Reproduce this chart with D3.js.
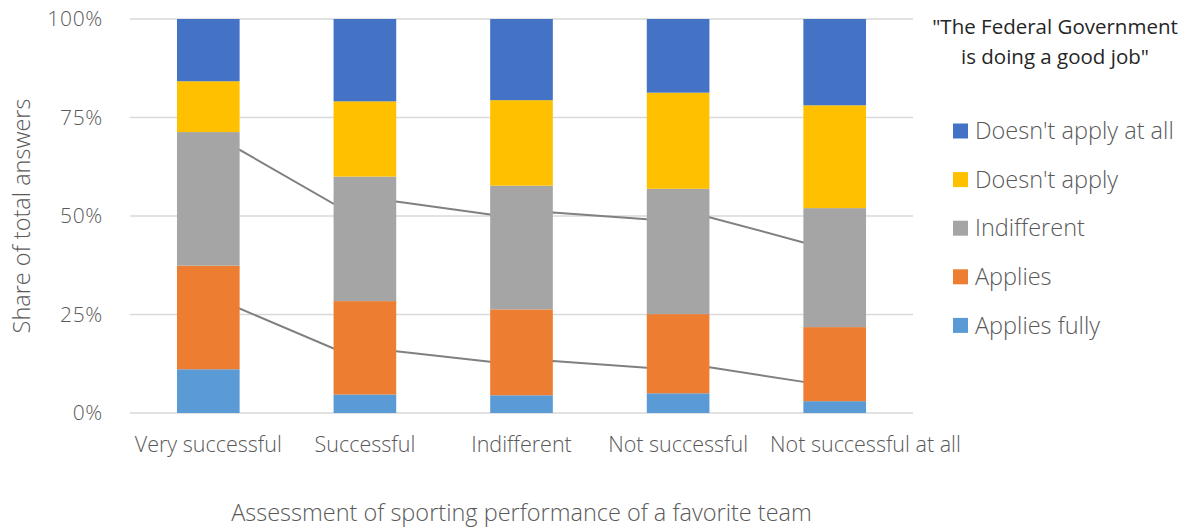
<!DOCTYPE html>
<html>
<head>
<meta charset="utf-8">
<script src="https://cdn.jsdelivr.net/npm/d3@7"></script>
<style>
  body { margin: 0; background: #fff; }
  text { font-family: "Open Sans", "Noto Sans", sans-serif; }
  .light { font-weight: 300; }
</style>
</head>
<body>
<div id="chart"></div>
<script>
// categories and series
var categories = ["Very successful", "Successful", "Indifferent", "Not successful", "Not successful at all"];
var seriesNames = ["Applies fully", "Applies", "Indifferent", "Doesn't apply", "Doesn't apply at all"];
var seriesColors = ["#5B9BD5", "#ED7D31", "#A5A5A5", "#FFC000", "#4472C4"];

// shares in % (bottom to top)
var appliesFully = [11.1, 4.7, 4.5, 5.0, 3.0];
var applies = [26.3, 23.7, 21.8, 20.1, 18.8];
var indifferent = [33.9, 31.6, 31.4, 31.8, 30.2];
var doesntApply = [12.9, 19.1, 21.7, 24.4, 26.1];
var doesntApplyAtAll = [15.8, 20.9, 20.6, 18.7, 21.9];

// connector lines, value at left / right edge of each bar
var upperLeft = [66.8, 53.1, 50.4, 49.2, 43.3];
var upperRight = [66.8, 53.7, 50.9, 49.7, 43.3];
var lowerLeft = [26.5, 16.4, 13.0, 11.5, 7.9];
var lowerRight = [26.5, 15.7, 13.2, 11.6, 7.9];

var yTicks = [0, 25, 50, 75, 100];

var svgWidth = 1187, svgHeight = 528;
var margin = { top: 19, right: 274, bottom: 115, left: 130 };
var width = svgWidth - margin.left - margin.right;
var height = svgHeight - margin.top - margin.bottom;

var svg = d3.select("#chart")
  .append("svg")
  .attr("width", svgWidth)
  .attr("height", svgHeight);

var chartGroup = svg.append("g")
  .attr("transform", `translate(${margin.left}, ${margin.top})`);

var xScale = d3.scaleBand()
  .domain(categories)
  .range([0, width])
  .paddingInner(0.6)
  .paddingOuter(0.3);

var yScale = d3.scaleLinear()
  .domain([0, 100])
  .range([height, 0]);

// gridlines
chartGroup.selectAll(".grid")
  .data(yTicks)
  .enter()
  .append("line")
  .attr("x1", 0)
  .attr("x2", width)
  .attr("y1", d => yScale(d))
  .attr("y2", d => yScale(d))
  .attr("stroke", "#d9d9d9")
  .attr("stroke-width", 1.5);

// y tick labels
chartGroup.selectAll(".ytick")
  .data(yTicks)
  .enter()
  .append("text")
  .classed("light", true)
  .attr("x", -27)
  .attr("y", d => yScale(d))
  .attr("dy", "0.35em")
  .attr("text-anchor", "end")
  .attr("font-size", "21px")
  .attr("letter-spacing", "0.7px")
  .attr("fill", "#595959")
  .text(d => d + "%");

// connector lines (drawn behind bars)
function linePoints(left, right) {
  var pts = [];
  categories.forEach(function (c, i) {
    pts.push([xScale(c), left[i]]);
    pts.push([xScale(c) + xScale.bandwidth(), right[i]]);
  });
  return pts;
}
var line = d3.line()
  .x(d => d[0])
  .y(d => yScale(d[1]));

[linePoints(upperLeft, upperRight), linePoints(lowerLeft, lowerRight)].forEach(function (pts) {
  chartGroup.append("path")
    .attr("d", line(pts))
    .attr("fill", "none")
    .attr("stroke", "#808080")
    .attr("stroke-width", 2);
});

// stacked bars
var tableData = categories.map(function (c, i) {
  return {
    category: c,
    "Applies fully": appliesFully[i],
    "Applies": applies[i],
    "Indifferent": indifferent[i],
    "Doesn't apply": doesntApply[i],
    "Doesn't apply at all": doesntApplyAtAll[i]
  };
});
var stacked = d3.stack().keys(seriesNames)(tableData);

chartGroup.selectAll(".series")
  .data(stacked)
  .enter()
  .append("g")
  .attr("fill", (d, i) => seriesColors[i])
  .selectAll("rect")
  .data(d => d)
  .enter()
  .append("rect")
  .attr("x", d => xScale(d.data.category))
  .attr("width", xScale.bandwidth())
  .attr("y", d => yScale(d[1]))
  .attr("height", d => yScale(d[0]) - yScale(d[1]));

// x labels
var xLabels = chartGroup.selectAll(".xtick")
  .data(categories)
  .enter()
  .append("text")
  .classed("light", true)
  .attr("x", d => xScale(d) + xScale.bandwidth() / 2)
  .attr("y", height + 39)
  .attr("text-anchor", "middle")
  .attr("font-size", "21.5px")
  .attr("fill", "#595959")
  .text(d => d);

// push labels right if they would collide with the previous one
var prevRight = -Infinity;
xLabels.each(function () {
  var el = d3.select(this);
  var w = this.getComputedTextLength();
  var cx = +el.attr("x");
  if (cx - w / 2 < prevRight + 22) {
    cx = prevRight + 22 + w / 2;
    el.attr("x", cx);
  }
  prevRight = cx + w / 2;
});

// axis titles
svg.append("text")
  .classed("light", true)
  .attr("transform", "rotate(-90)")
  .attr("x", -(margin.top + height / 2))
  .attr("y", 30)
  .attr("text-anchor", "middle")
  .attr("font-size", "23.5px")
  .attr("fill", "#595959")
  .text("Share of total answers");

svg.append("text")
  .classed("light", true)
  .attr("x", margin.left + width / 2)
  .attr("y", 521)
  .attr("text-anchor", "middle")
  .attr("font-size", "23.5px")
  .attr("fill", "#595959")
  .text("Assessment of sporting performance of a favorite team");

// legend title
var legendTitle = svg.append("text")
  .attr("x", 1055)
  .attr("y", 34)
  .attr("text-anchor", "middle")
  .attr("font-size", "20.5px")
  .attr("fill", "#262626");
legendTitle.append("tspan").attr("x", 1055).text("\"The Federal Government");
legendTitle.append("tspan").attr("x", 1055).attr("dy", "1.45em").text("is doing a good job\"");

// legend (top to bottom, reversed order)
var legendItems = seriesNames.slice().reverse();
var legendColors = seriesColors.slice().reverse();
var legend = svg.selectAll(".legend")
  .data(legendItems)
  .enter()
  .append("g")
  .attr("transform", (d, i) => `translate(953, ${131 + i * 48.6})`);

legend.append("rect")
  .attr("x", 0)
  .attr("y", -7.5)
  .attr("width", 15)
  .attr("height", 15)
  .attr("fill", (d, i) => legendColors[i]);

legend.append("text")
  .classed("light", true)
  .attr("x", 22)
  .attr("y", 0)
  .attr("dy", "0.35em")
  .attr("font-size", "23.5px")
  .attr("fill", "#595959")
  .text(d => d);
</script>
</body>
</html>
